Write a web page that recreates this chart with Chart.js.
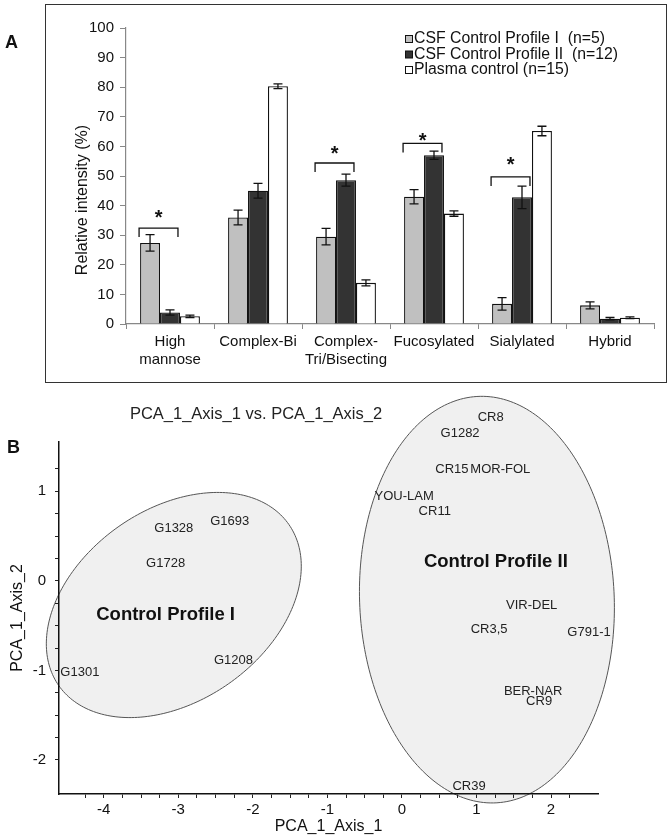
<!DOCTYPE html>
<html>
<head>
<meta charset="utf-8">
<script src="https://cdn.jsdelivr.net/npm/chart.js@4.4.1/dist/chart.umd.min.js"></script>
<style>
  html, body { margin: 0; padding: 0; background: #fff; }
  body { width: 672px; height: 840px; position: relative; overflow: hidden; }
  #boxA { position: absolute; left: 45px; top: 4px; width: 622px; height: 379px; box-sizing: border-box; border: 1.5px solid #333; }
  #chartA { position: absolute; left: 0; top: 0; }
  #chartB { position: absolute; left: 0; top: 380px; }
</style>
</head>
<body>
<div id="boxA"></div>
<canvas id="chartA" width="672" height="383"></canvas>
<canvas id="chartB" width="672" height="460"></canvas>
<script>
  const FONT = '"Liberation Sans", Arial, sans-serif';
  Chart.defaults.font.family = FONT;
  Chart.defaults.color = '#111';

  // === Panel A: glycan classes ===
  const categories = [['High', 'mannose'], 'Complex-Bi', ['Complex-', 'Tri/Bisecting'], 'Fucosylated', 'Sialylated', 'Hybrid'];
  const seriesNames = ['CSF Control Profile I  (n=5)', 'CSF Control Profile II  (n=12)', 'Plasma control (n=15)'];
  const profileI = [27.4, 36, 29.5, 43, 6.8, 6.3];
  const profileII = [3.9, 45, 48.6, 57, 42.8, 1.8];
  const plasma = [2.6, 80.3, 13.9, 37.3, 65.2, 2.1];
  const profileIErr = [2.8, 2.5, 2.8, 2.4, 2.1, 1.2];
  const profileIIErr = [0.9, 2.5, 2.0, 1.4, 3.8, 0.4];
  const plasmaErr = [0.4, 0.8, 1.0, 0.9, 1.6, 0.3];
  // significance brackets (Profile I vs Profile II)
  const sigCategory = [0, 2, 3, 4];
  const sigLevel = [32.4, 54.4, 61, 49.7];
  const sigStar = [37.8, 59.1, 63.8, 55.4];

  // === Panel B: PCA ===
  const profileINames = ['G1328', 'G1693', 'G1728', 'G1301', 'G1208'];
  const profileIAxis1 = [-3.06, -2.31, -3.17, -4.32, -2.26];
  const profileIAxis2 = [0.58, 0.66, 0.19, -1.02, -0.89];
  const profileIINames = ['CR8', 'G1282', 'CR15', 'MOR-FOL', 'YOU-LAM', 'CR11', 'VIR-DEL', 'CR3,5', 'G791-1', 'BER-NAR', 'CR9', 'CR39'];
  const profileIIAxis1 = [1.19, 0.78, 0.67, 1.32, 0.03, 0.44, 1.74, 1.17, 2.51, 1.76, 1.84, 0.90];
  const profileIIAxis2 = [1.82, 1.65, 1.24, 1.24, 0.94, 0.77, -0.28, -0.54, -0.58, -1.24, -1.35, -2.30];
  const groupNames = ['Control Profile I', 'Control Profile II'];
  const groupAxis1 = [-3.17, 1.26];
  const groupAxis2 = [-0.38, 0.21];
  const ellipseCx = [-3.06, 1.14];
  const ellipseCy = [-0.27, -0.21];
  const ellipseRx = [1.71, 1.71];
  const ellipseRy = [1.257, 2.27];
  const ellipseTilt = [0.345, -0.04];

  const panelAExtras = {
    id: 'panelAExtras',
    afterDatasetsDraw(chart) {
      const ctx = chart.ctx;
      const y = chart.scales.y;
      ctx.save();
      ctx.strokeStyle = '#111';
      ctx.lineWidth = 1.3;
      // error bars
      chart.data.datasets.forEach((ds, di) => {
        chart.getDatasetMeta(di).data.forEach((bar, i) => {
          const top = y.getPixelForValue(ds.data[i] + ds.errors[i]);
          const bot = y.getPixelForValue(ds.data[i] - ds.errors[i]);
          ctx.beginPath();
          ctx.moveTo(bar.x, top); ctx.lineTo(bar.x, bot);
          ctx.moveTo(bar.x - 4.5, top); ctx.lineTo(bar.x + 4.5, top);
          ctx.moveTo(bar.x - 4.5, bot); ctx.lineTo(bar.x + 4.5, bot);
          ctx.stroke();
        });
      });
      // brackets + stars
      const m0 = chart.getDatasetMeta(0), m1 = chart.getDatasetMeta(1);
      sigCategory.forEach((c, k) => {
        const b0 = m0.data[c], b1 = m1.data[c];
        const x1 = b0.x - b0.width / 2 - 1;
        const x2 = b1.x + b1.width / 2 - 2;
        const ly = y.getPixelForValue(sigLevel[k]);
        ctx.beginPath();
        ctx.moveTo(x1, ly + 9); ctx.lineTo(x1, ly); ctx.lineTo(x2, ly); ctx.lineTo(x2, ly + 9);
        ctx.stroke();
        ctx.fillStyle = '#111';
        ctx.font = 'bold 20px ' + FONT;
        ctx.textAlign = 'center';
        ctx.textBaseline = 'alphabetic';
        ctx.fillText('*', (x1 + x2) / 2, y.getPixelForValue(sigStar[k]) + 0.57 * 20);
      });
      ctx.restore();
    },
    afterDraw(chart) {
      const ctx = chart.ctx;
      ctx.save();
      // legend
      const rows = [39, 54.5, 70];
      seriesNames.forEach((name, i) => {
        const ds = chart.data.datasets[i];
        ctx.fillStyle = ds.backgroundColor;
        ctx.fillRect(405, rows[i] - 3.5, 7, 7);
        ctx.strokeStyle = '#111';
        ctx.lineWidth = 1;
        ctx.strokeRect(405.5, rows[i] - 3.5, 7, 7);
        ctx.fillStyle = '#111';
        ctx.font = '15.8px ' + FONT;
        ctx.textAlign = 'left';
        ctx.textBaseline = 'middle';
        ctx.fillText(name, 414, rows[i]);
      });
      // y title
      ctx.translate(83, 200);
      ctx.rotate(-Math.PI / 2);
      ctx.font = '16px ' + FONT;
      ctx.textAlign = 'center';
      ctx.textBaseline = 'middle';
      ctx.fillText('Relative intensity (%)', 0, 0);
      ctx.restore();
      ctx.save();
      ctx.fillStyle = '#111';
      ctx.font = 'bold 18px ' + FONT;
      ctx.textBaseline = 'alphabetic';
      ctx.fillText('A', 5, 48);
      ctx.restore();
    }
  };

  new Chart(document.getElementById('chartA'), {
    type: 'bar',
    data: {
      labels: categories,
      datasets: [
        { label: seriesNames[0], data: profileI, errors: profileIErr, backgroundColor: '#c0c0c0' },
        { label: seriesNames[1], data: profileII, errors: profileIIErr, backgroundColor: '#333333' },
        { label: seriesNames[2], data: plasma, errors: plasmaErr, backgroundColor: '#ffffff' }
      ]
    },
    options: {
      responsive: false,
      animation: false,
      layout: { padding: { top: 28, right: 18, left: 0, bottom: 0 } },
      datasets: { bar: { borderColor: '#111', borderWidth: 1.3, categoryPercentage: 0.68, barPercentage: 1 } },
      plugins: { legend: { display: false }, tooltip: { enabled: false } },
      scales: {
        x: {
          afterFit: s => { s.height = 59; },
          grid: { drawOnChartArea: false, tickLength: 5, color: '#888' },
          border: { color: '#888', width: 1.2 },
          ticks: { font: { size: 15 }, color: '#111', padding: 4, maxRotation: 0, autoSkip: false }
        },
        y: {
          min: 0, max: 100,
          afterFit: s => { s.width = 126; },
          grid: { drawOnChartArea: false, tickLength: 6, color: '#888' },
          border: { color: '#888', width: 1.2 },
          ticks: { stepSize: 10, font: { size: 15 }, color: '#111', padding: 6 }
        }
      }
    },
    plugins: [panelAExtras]
  });

  const isWhole = v => Math.abs(v - Math.round(v)) < 1e-6;
  const isQuarter = v => Math.abs(v * 4 - Math.round(v * 4)) < 1e-6;

  const pcaExtras = {
    id: 'pcaExtras',
    beforeDraw(chart) {
      const ctx = chart.ctx, x = chart.scales.x, y = chart.scales.y;
      ctx.save();
      ellipseCx.forEach((cx, k) => {
        const s = Math.sqrt(1 - ellipseTilt[k] * ellipseTilt[k]);
        ctx.beginPath();
        for (let i = 0; i <= 240; i++) {
          const t = i / 240 * Math.PI * 2;
          const px = x.getPixelForValue(cx + ellipseRx[k] * Math.cos(t));
          const py = y.getPixelForValue(ellipseCy[k] + ellipseRy[k] * (ellipseTilt[k] * Math.cos(t) + s * Math.sin(t)));
          if (i === 0) ctx.moveTo(px, py); else ctx.lineTo(px, py);
        }
        ctx.closePath();
        ctx.fillStyle = '#f0f0f0';
        ctx.fill();
        ctx.strokeStyle = '#555';
        ctx.lineWidth = 1;
        ctx.stroke();
      });
      ctx.restore();
    },
    afterDatasetsDraw(chart) {
      const ctx = chart.ctx, x = chart.scales.x, y = chart.scales.y;
      ctx.save();
      ctx.fillStyle = '#222';
      ctx.textAlign = 'center';
      ctx.textBaseline = 'middle';
      ctx.font = '13px ' + FONT;
      chart.data.datasets.forEach((ds, di) => {
        chart.getDatasetMeta(di).data.forEach((pt, i) => {
          ctx.fillText(ds.names[i], pt.x, pt.y);
        });
      });
      ctx.fillStyle = '#111';
      ctx.font = 'bold 18.5px ' + FONT;
      groupNames.forEach((g, k) => {
        ctx.fillText(g, x.getPixelForValue(groupAxis1[k]), y.getPixelForValue(groupAxis2[k]));
      });
      ctx.restore();
    },
    afterDraw(chart) {
      const ctx = chart.ctx;
      ctx.save();
      ctx.fillStyle = '#222';
      ctx.font = '16.5px ' + FONT;
      ctx.textAlign = 'center';
      ctx.textBaseline = 'middle';
      ctx.fillText('PCA_1_Axis_1 vs. PCA_1_Axis_2', 256, 34);
      ctx.fillStyle = '#111';
      ctx.font = 'bold 18px ' + FONT;
      ctx.textAlign = 'left';
      ctx.textBaseline = 'alphabetic';
      ctx.fillText('B', 7, 73);
      ctx.restore();
    }
  };

  const tickStyle = ctx => isQuarter(ctx.tick.value) ? '#222' : 'rgba(0,0,0,0)';

  new Chart(document.getElementById('chartB'), {
    type: 'scatter',
    data: {
      datasets: [
        { label: groupNames[0], names: profileINames, data: profileIAxis1.map((v, i) => ({ x: v, y: profileIAxis2[i] })), pointRadius: 0, clip: false },
        { label: groupNames[1], names: profileIINames, data: profileIIAxis1.map((v, i) => ({ x: v, y: profileIIAxis2[i] })), pointRadius: 0, clip: false }
      ]
    },
    options: {
      responsive: false,
      animation: false,
      layout: { padding: { top: 62, right: 74, left: 0, bottom: 0 } },
      plugins: { legend: { display: false }, tooltip: { enabled: false } },
      scales: {
        x: {
          type: 'linear', position: 'bottom',
          min: -4.6, max: 2.63,
          afterFit: s => { s.height = 46; },
          grid: { drawOnChartArea: false, tickLength: 4, color: '#222', tickColor: tickStyle },
          border: { color: '#111', width: 1.5 },
          ticks: { stepSize: 0.25, autoSkip: false, maxRotation: 0, padding: 3, font: { size: 15 }, color: '#111',
            callback: v => isWhole(v) ? String(Math.round(v)) : '' },
          title: { display: true, text: 'PCA_1_Axis_1', font: { size: 16 }, color: '#111', padding: { top: 0, bottom: 3.4 } }
        },
        y: {
          type: 'linear',
          min: -2.38, max: 1.55,
          afterFit: s => { s.width = 59; },
          grid: { drawOnChartArea: false, tickLength: 4, color: '#222', tickColor: tickStyle },
          border: { color: '#111', width: 1.5 },
          ticks: { stepSize: 0.25, autoSkip: false, padding: 9, font: { size: 15 }, color: '#111',
            callback: v => isWhole(v) ? String(Math.round(v)) : '' },
          title: { display: true, text: 'PCA_1_Axis_2', font: { size: 16 }, color: '#111', padding: { top: 8.4, bottom: 0 } }
        }
      }
    },
    plugins: [pcaExtras]
  });
</script>
</body>
</html>
